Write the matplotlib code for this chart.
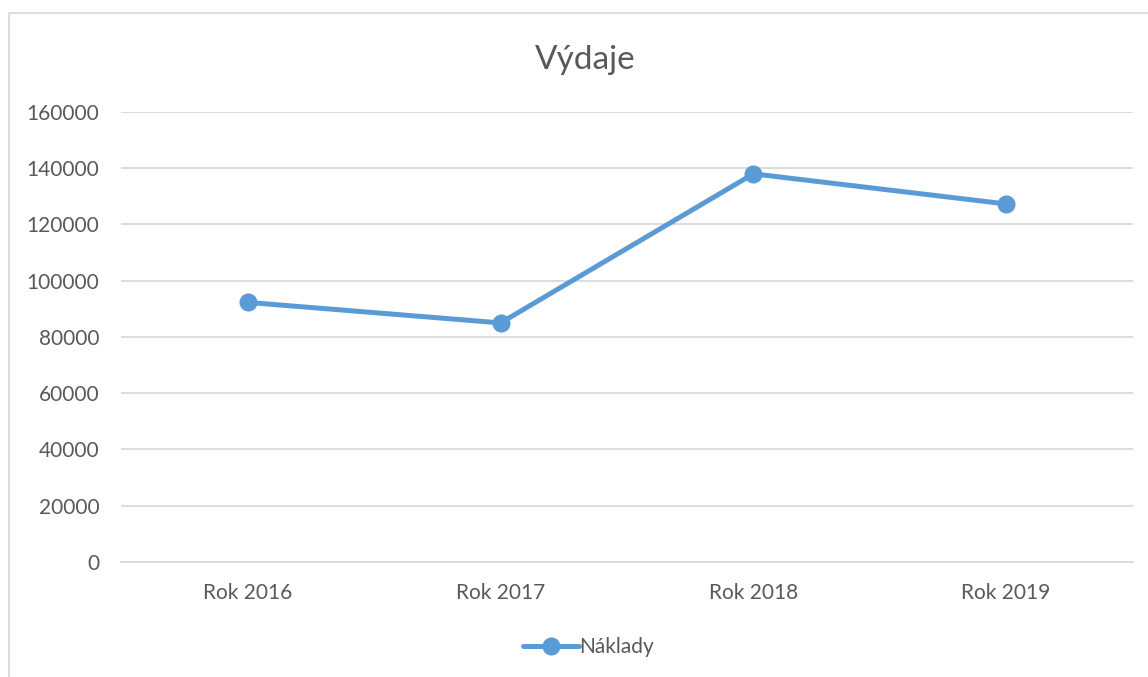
import matplotlib.pyplot as plt
from matplotlib.patches import Rectangle

# data
roky = ['Rok 2016', 'Rok 2017', 'Rok 2018', 'Rok 2019']
naklady = [92300, 85000, 138000, 127300]
y_ticks = [0, 20000, 40000, 60000, 80000, 100000, 120000, 140000, 160000]

plt.rcParams['font.family'] = ['Lato', 'DejaVu Sans']
text_color = '#595959'
grid_color = '#d9d9d9'
line_color = '#5b9bd5'

fig = plt.figure(figsize=(11.48, 6.77), dpi=100)
ax = fig.add_axes([0.1058, 0.1699, 0.8807, 0.6647])

x = list(range(len(roky)))
ax.plot(x, naklady, color=line_color, linewidth=3.6, marker='o',
        markersize=12, label='Náklady', solid_capstyle='round', zorder=3)

ax.set_xlim(-0.5, len(roky) - 0.5)
ax.set_ylim(0, 160000)
ax.set_yticks(y_ticks)
ax.set_yticklabels([str(v) for v in y_ticks])
ax.set_xticks(x)
ax.set_xticklabels(roky)

ax.grid(axis='y', color=grid_color, linewidth=1.3)
ax.set_axisbelow(True)
for s in ['top', 'right', 'left']:
    ax.spines[s].set_visible(False)
ax.spines['bottom'].set_color(grid_color)
ax.spines['bottom'].set_linewidth(1.3)
ax.tick_params(axis='both', length=0, labelsize=15, colors=text_color)
ax.tick_params(axis='y', pad=16)
ax.tick_params(axis='x', pad=15)

fig.text(0.51, 0.912, 'Výdaje', ha='center', va='center', fontsize=24, color=text_color)

leg = ax.legend(loc='center', bbox_to_anchor=(0.462, -0.19), frameon=False,
                fontsize=15, handlelength=2.7, handletextpad=0.0)
for t in leg.get_texts():
    t.set_color(text_color)

# chart frame (cut off on right and bottom)
fig.patches.append(Rectangle((9 / 1148, -0.1), 1.2, 1 - 13 / 677 + 0.1,
                             transform=fig.transFigure, fill=False,
                             edgecolor=grid_color, linewidth=1.3))

fig.savefig('out.png', dpi=100)
